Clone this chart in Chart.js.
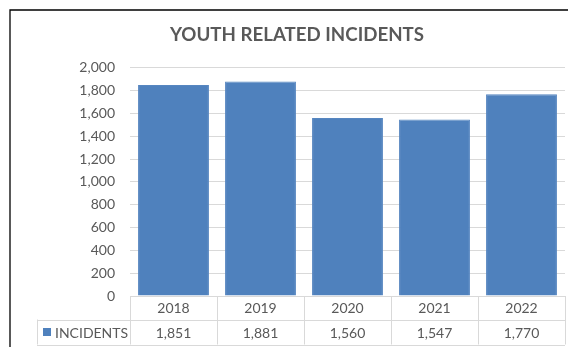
<!DOCTYPE html>
<html>
<head>
<meta charset="utf-8">
<script src="https://cdn.jsdelivr.net/npm/chart.js@4/dist/chart.umd.min.js"></script>
<style>
    body { margin: 0; background: #fff; }
    canvas { display: block; }
</style>
</head>
<body>
<canvas id="barChart" width="568" height="347"></canvas>
<script>
var years = ['2018', '2019', '2020', '2021', '2022'];
var incidents = [1851, 1881, 1560, 1547, 1770];
var seriesName = 'INCIDENTS';
var yMin = 0;
var yMax = 2000;
var yStep = 200;

var textColor = '#595959';
var lineColor = '#d9d9d9';
var barColor = '#4f81bd';
var fontFamily = 'Lato, "Open Sans", sans-serif';

// draws the outer frame and the data table under the bars
var dataTablePlugin = {
    id: 'dataTable',
    afterDraw: function (chart) {
        var ctx = chart.ctx;
        var xScale = chart.scales.x;
        var area = chart.chartArea;
        var rowH = 23.5;
        var top = area.bottom;
        var mid = top + rowH;
        var bottom = mid + 25;
        var labelLeft = 37;
        var step = (area.right - area.left) / years.length;

        ctx.save();
        ctx.strokeStyle = lineColor;
        ctx.lineWidth = 1;
        ctx.beginPath();
        ctx.moveTo(area.left, Math.round(top) + 0.5);
        ctx.lineTo(area.right, Math.round(top) + 0.5);
        ctx.moveTo(labelLeft, Math.round(mid) + 0.5);
        ctx.lineTo(area.right, Math.round(mid) + 0.5);
        ctx.moveTo(labelLeft, Math.round(bottom) + 0.5);
        ctx.lineTo(area.right, Math.round(bottom) + 0.5);
        for (var i = 0; i <= years.length; i++) {
            var lx = Math.round(area.left + step * i) + 0.5;
            ctx.moveTo(lx, top);
            ctx.lineTo(lx, bottom);
        }
        ctx.moveTo(labelLeft + 0.5, mid);
        ctx.lineTo(labelLeft + 0.5, bottom);
        ctx.stroke();

        ctx.fillStyle = textColor;
        ctx.font = '14px ' + fontFamily;
        ctx.textAlign = 'center';
        ctx.textBaseline = 'middle';
        for (var j = 0; j < years.length; j++) {
            var cx = xScale.getPixelForValue(j);
            ctx.fillText(years[j], cx, (top + mid) / 2 + 1);
            ctx.fillText(incidents[j].toLocaleString('en-US'), cx, (mid + bottom) / 2 + 1);
        }

        // legend key + series name
        ctx.fillStyle = barColor;
        ctx.fillRect(43, 328, 8, 8);
        ctx.fillStyle = textColor;
        ctx.textAlign = 'left';
        ctx.fillText(seriesName, 55, (mid + bottom) / 2 + 1);

        // outer frame
        ctx.strokeStyle = '#000';
        ctx.lineWidth = 1.3;
        ctx.beginPath();
        ctx.moveTo(10, chart.height);
        ctx.lineTo(10, 10);
        ctx.lineTo(chart.width, 10);
        ctx.stroke();
        ctx.restore();
    }
};

var barCanvas = document.getElementById('barChart');
var barChart = new Chart(barCanvas, {
    type: 'bar',
    data: {
        labels: years,
        datasets: [{
            label: seriesName,
            data: incidents,
            backgroundColor: barColor,
            borderColor: '#5686c0',
            borderWidth: 1,
            barPercentage: 0.815,
            categoryPercentage: 1
        }]
    },
    options: {
        responsive: false,
        animation: false,
        layout: {
            padding: { left: 29, right: 3, top: 0, bottom: 51 }
        },
        plugins: {
            legend: { display: false },
            tooltip: { enabled: false },
            title: {
                display: true,
                text: 'YOUTH RELATED INCIDENTS',
                color: textColor,
                font: { family: fontFamily, size: 18.7, weight: 'bold' },
                padding: { top: 23.5, bottom: 22 }
            }
        },
        scales: {
            x: {
                display: false
            },
            y: {
                min: yMin,
                max: yMax,
                afterFit: function (scale) {
                    scale.width = 101;
                },
                ticks: {
                    stepSize: yStep,
                    color: textColor,
                    padding: 15,
                    font: { family: fontFamily, size: 14 }
                },
                grid: {
                    color: lineColor,
                    drawTicks: false
                },
                border: { display: false }
            }
        }
    },
    plugins: [dataTablePlugin]
});
</script>
</body>
</html>
